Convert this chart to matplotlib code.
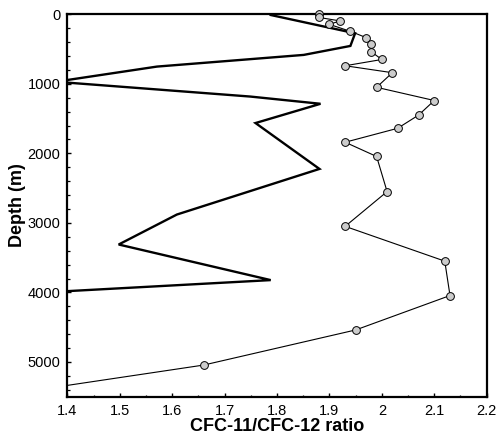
import matplotlib
matplotlib.use("Agg")
import matplotlib.pyplot as plt
from matplotlib.ticker import MultipleLocator

plt.rcParams['font.family'] = ['Liberation Sans', 'DejaVu Sans']

# Observed CFC-11/CFC-12 ratio profile (circles)
obs_depth = [0, 45, 95, 145, 245, 335, 430, 540, 650, 740, 840, 1050, 1240,
             1450, 1640, 1840, 2045, 2550, 3050, 3550, 4045, 4540, 5045]
obs_ratio = [1.88, 1.88, 1.92, 1.90, 1.94, 1.97, 1.98, 1.98, 2.00, 1.93, 2.02,
             1.99, 2.10, 2.07, 2.03, 1.93, 1.99, 2.01, 1.93, 2.12, 2.13, 1.95, 1.66]
# deepest sample lies below the plotted range
deep_depth = [5450]
deep_ratio = [1.30]

# Model ratio profile (thick line)
model_depth = [10, 273, 455, 584, 752, 970, 1183, 1287, 1564, 2224, 2880,
               3311, 3823, 3990]
model_ratio = [1.788, 1.949, 1.940, 1.851, 1.571, 1.378, 1.749, 1.883, 1.759,
               1.881, 1.609, 1.498, 1.788, 1.38]

xticks = [1.4, 1.5, 1.6, 1.7, 1.8, 1.9, 2.0, 2.1, 2.2]
xticklabels = ["1.4", "1.5", "1.6", "1.7", "1.8", "1.9", "2", "2.1", "2.2"]
yticks = [0, 1000, 2000, 3000, 4000, 5000]

fig = plt.figure(figsize=(4.97, 4.34), dpi=100)
ax = fig.add_axes([67.3 / 497, 1 - 396.7 / 434, (486.7 - 67.3) / 497, (396.7 - 14.3) / 434])

ax.plot(model_ratio, model_depth, color='black', lw=1.7, zorder=2,
        solid_joinstyle='miter')
ax.plot(obs_ratio + deep_ratio, obs_depth + deep_depth, color='black', lw=0.8,
        zorder=3)
ax.plot(obs_ratio, obs_depth, linestyle='none', marker='o', markersize=5.6,
        markerfacecolor='#cccccc', markeredgecolor='black', markeredgewidth=0.7,
        zorder=4, clip_on=False)

ax.set_xlim(1.4, 2.2)
ax.set_ylim(5500, 0)
ax.set_xticks(xticks)
ax.set_xticklabels(xticklabels)
ax.set_yticks(yticks)
ax.xaxis.set_minor_locator(MultipleLocator(0.05))
ax.yaxis.set_minor_locator(MultipleLocator(200))

ax.tick_params(which='both', direction='in', top=False, right=False,
               labelsize=10.5, pad=5)
ax.tick_params(which='major', length=3.2, width=1.0)
ax.tick_params(which='minor', length=1.8, width=0.9)

for s in ax.spines.values():
    s.set_linewidth(1.6)

ax.set_xlabel("CFC-11/CFC-12 ratio", fontsize=13, fontweight='bold', labelpad=0)
ax.set_ylabel("Depth (m)", fontsize=13, fontweight='bold', labelpad=1)

fig.savefig("out.png", dpi=100)
